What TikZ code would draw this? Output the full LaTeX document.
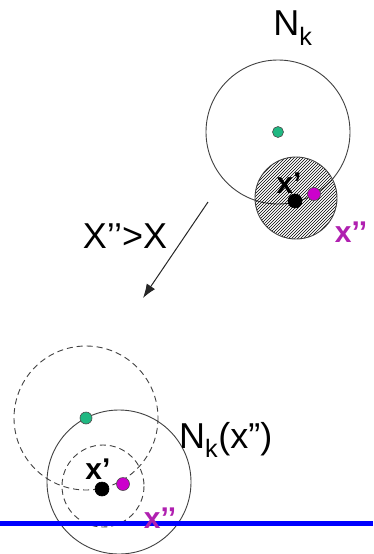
\documentclass[tikz,border=0pt]{standalone}
\usepackage{fontspec}
\setmainfont{Liberation Sans}
\usetikzlibrary{patterns,arrows.meta}
\definecolor{dotgreen}{RGB}{32,184,130}
\definecolor{dotmag}{RGB}{204,0,204}
\definecolor{labmag}{RGB}{176,32,176}

\begin{document}
\begin{tikzpicture}[
  x=1pt,y=-1pt,
  hood/.style={draw=black!75,line width=0.9pt},
  oldhood/.style={hood,dash pattern=on 6pt off 4pt},
  dot/.style={circle,draw=black!70,line width=0.6pt,inner sep=0pt,minimum size=13pt},
  lbl/.style={font=\fontsize{36}{38}\selectfont,inner sep=0pt},
  small/.style={font=\fontsize{30}{32}\selectfont\bfseries,inner sep=0pt}
]
  \useasboundingbox (0,0) rectangle (373,554);

  % upper situation
  \coordinate (c1) at (278,132);
  \coordinate (h1) at (296,198);
  \draw[hood] (c1) circle (72);
  \draw[hood,pattern=north east lines] (h1) circle (41);
  \node[dot,fill=dotgreen,minimum size=11pt] (g1) at (c1) {};
  \node[dot,fill=black,draw=black,minimum size=14pt] (b1) at (295,201) {};
  \node[dot,fill=dotmag] (m1) at (314,194) {};
  \node[small] (xp1) at (289,183) {x’};
  \node[small,text=labmag] (xq1) at (351,232) {x’’};
  \node[lbl] (nk) at (293,28) {N\textsubscript{k}};

  % move
  \coordinate (as) at (208,202);
  \coordinate (ae) at (143,298);
  \draw[black!85,line width=1pt,-{Latex[length=14pt,width=10pt]}] (as)--(ae);
  \node[lbl] (cmp) at (125,236) {X’’>X};

  % lower situation
  \coordinate (c2) at (86,418);
  \coordinate (c3) at (119,482);
  \coordinate (h2) at (103,486);
  \draw[oldhood] (c2) circle (72);
  \draw[hood] (c3) circle (72);
  \draw[oldhood] (h2) circle (41);
  \draw[blue,line width=5pt] (0,523)--(373,523);
  \node[dot,fill=dotgreen,minimum size=12pt] (g2) at (c2) {};
  \node[dot,fill=black,draw=black,minimum size=14pt] (b2) at (102,489) {};
  \node[dot,fill=dotmag] (m2) at (123,484) {};
  \node[small] (xp2) at (98,469) {x’};
  \node[small,text=labmag] (xq2) at (160,518) {x’’};
  \node[lbl,anchor=west] (nkx) at (179,440) {N\textsubscript{k}(x”)};
\end{tikzpicture}
\end{document}
